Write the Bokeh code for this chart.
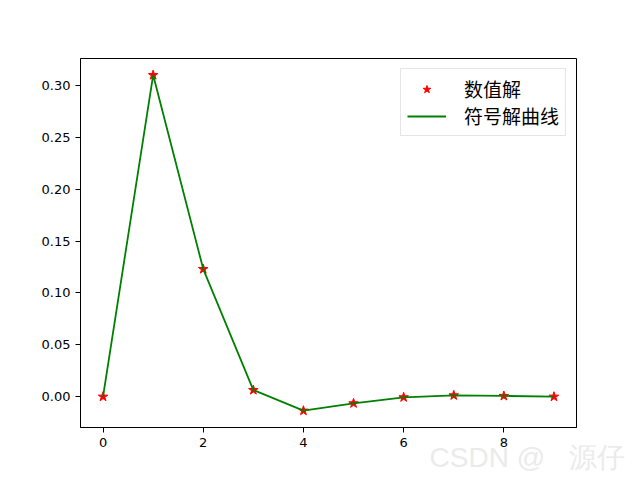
from bokeh.plotting import figure
from bokeh.models import Range1d, FixedTicker, NumeralTickFormatter, Legend, LegendItem, Title
from bokeh.embed import file_html
from bokeh.resources import INLINE

# data
x_vals = [0, 1, 2, 3, 4, 5, 6, 7, 8, 9]
numeric_vals = [0.0, 0.31, 0.123, 0.0064, -0.0135, -0.0064, -0.0006, 0.0013, 0.0007, 0.0]
symbolic_vals = [0.0, 0.31, 0.123, 0.0064, -0.0135, -0.0064, -0.0006, 0.0013, 0.0007, 0.0]
x_ticks = [0, 2, 4, 6, 8]
y_ticks = [0.0, 0.05, 0.10, 0.15, 0.20, 0.25, 0.30]
labels = ["数值解", "符号解曲线"]
watermark = "CSDN @\u00a0\u00a0\u00a0源仔"

p = figure(width=640, height=480, output_backend="svg", toolbar_location=None,
           x_range=Range1d(-0.45, 9.45), y_range=Range1d(-0.0297, 0.326),
           min_border_left=80, min_border_right=64, min_border_top=58, min_border_bottom=53,
           background_fill_color="white", border_fill_color="white")
p.xgrid.visible = False
p.ygrid.visible = False
p.outline_line_color = "black"
p.outline_line_alpha = 1.0
p.outline_line_width = 1

for ax in (p.xaxis[0], p.yaxis[0]):
    ax.axis_line_color = "black"
    ax.major_tick_in = 0
    ax.major_tick_out = 5
    ax.minor_tick_line_color = None
    ax.major_label_text_font = "DejaVu Sans"
    ax.major_label_text_font_size = "13px"
    ax.major_label_text_color = "black"
    ax.major_label_standoff = 5

p.xaxis[0].ticker = FixedTicker(ticks=x_ticks)
p.yaxis[0].ticker = FixedTicker(ticks=y_ticks)
p.yaxis[0].formatter = NumeralTickFormatter(format="0.00")

r1 = p.scatter(x_vals, numeric_vals, marker="star", size=10, fill_color="red", line_color="red")
r2 = p.line(x_vals, symbolic_vals, line_color="green", line_width=1.8)

legend = Legend(items=[LegendItem(label=labels[0], renderers=[r1]),
                       LegendItem(label=labels[1], renderers=[r2])],
                location="top_right",
                label_text_font="Noto Sans CJK SC", label_text_font_size="19px",
                label_text_color="black",
                glyph_width=39, glyph_height=20, label_height=20, label_standoff=18,
                spacing=0, padding=6, margin=10,
                border_line_color="#cccccc", border_line_width=1,
                background_fill_alpha=0.8)
p.add_layout(legend)

wm = Title(text=watermark, align="right", offset=-48, standoff=-19,
           text_color="#ebebeb", text_font="Liberation Sans", text_font_size="28px",
           text_font_style="normal")
p.add_layout(wm, "below")

open("out.html", "w").write(file_html(p, INLINE))
